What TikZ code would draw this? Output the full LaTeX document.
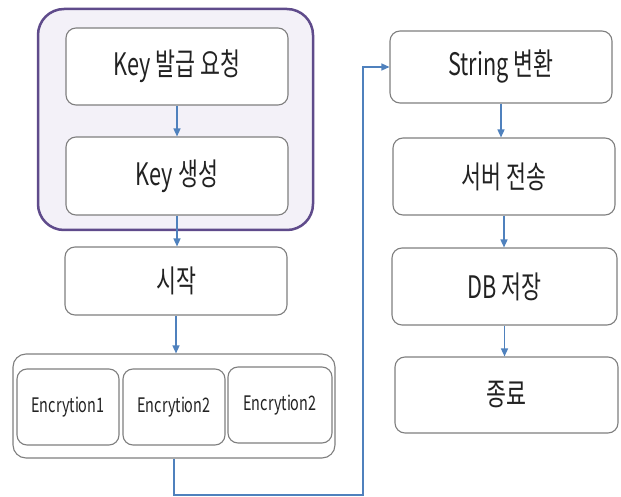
\documentclass[tikz,border=0pt]{standalone}
\usepackage{fontspec}
\setmainfont{Noto Sans CJK KR}[FakeStretch=0.70]
\newfontfamily\encfont{Noto Sans CJK KR}[FakeStretch=0.72]
\usetikzlibrary{arrows.meta}
\definecolor{arrowblue}{HTML}{4F81BD}
\definecolor{purpleline}{HTML}{5F4B8B}
\definecolor{purplefill}{HTML}{F3F1F8}
\definecolor{boxline}{HTML}{7F7F7F}
\definecolor{txt}{HTML}{222222}
\tikzset{
  stepbox/.style={draw=boxline, line width=1.1pt, fill=white, rounded corners=10pt,
    inner sep=0pt, text=txt, font=\fontsize{31}{34}\selectfont},
  encbox/.style={draw=boxline, line width=1.1pt, fill=white, rounded corners=10pt,
    inner sep=0pt, text=txt, font=\encfont\fontsize{20}{24}\selectfont},
  groupbox/.style={draw=purpleline, line width=2.5pt, fill=purplefill, rounded corners=26pt, inner sep=0pt},
  contbox/.style={draw=boxline, line width=1.1pt, fill=white, rounded corners=13pt, inner sep=0pt},
  flow/.style={draw=arrowblue, line width=1.4pt, -{Triangle[length=8pt,width=7pt]}},
}
\begin{document}
\begin{tikzpicture}[x=1pt,y=-1pt]
\useasboundingbox (0,0) rectangle (621,497);
% group and container
\node[groupbox, minimum width=275pt, minimum height=221pt] (grp) at (175.5,119.5) {};
\node[contbox, minimum width=322pt, minimum height=104pt] (enc) at (174,406) {};
% left column
\node[stepbox, minimum width=222pt, minimum height=77pt] (k1) at (177,66.5) {Key 발급 요청};
\node[stepbox, minimum width=222pt, minimum height=78pt] (k2) at (177,176) {Key 생성};
\node[stepbox, minimum width=222pt, minimum height=68pt] (st) at (176,281) {시작};
\node[encbox, minimum width=102pt, minimum height=76pt] (e1) at (68,407) {Encrytion1};
\node[encbox, minimum width=102pt, minimum height=76pt] (e2) at (174,407) {Encrytion2};
\node[encbox, minimum width=104pt, minimum height=76pt] (e3) at (280,405) {Encrytion2};
% right column
\node[stepbox, minimum width=222pt, minimum height=72pt] (s1) at (501,67) {String 변환};
\node[stepbox, minimum width=222pt, minimum height=77pt] (s2) at (504,176.5) {서버 전송};
\node[stepbox, minimum width=225pt, minimum height=77pt] (s3) at (504.5,286.5) {DB 저장};
\node[stepbox, minimum width=223pt, minimum height=76pt] (s4) at (506.5,395) {종료};
% connectors
\draw[flow] (k1.south) -- (k1.south |- k2.north);
\draw[flow] (k2.south) -- (k2.south |- st.north);
\draw[flow] (st.south) -- (st.south |- enc.north);
\coordinate (bend) at (363,495);
\draw[flow] (enc.south) |- (bend) |- (s1.west);
\draw[flow] (s1.south) -- (s1.south |- s2.north);
\draw[flow] (s2.south) -- (s2.south |- s3.north);
\draw[flow] (s3.south) -- (s3.south |- s4.north);
\end{tikzpicture}
\end{document}
